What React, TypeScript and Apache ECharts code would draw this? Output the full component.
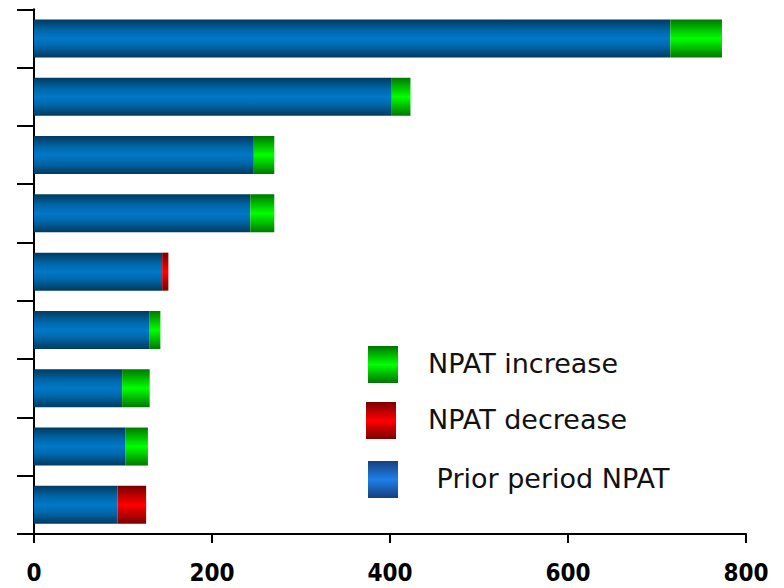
import React, { useEffect, useRef } from "react";
import * as echarts from "echarts";

const categories = ["C1", "C2", "C3", "C4", "C5", "C6", "C7", "C8", "C9"];
const priorNpat = [715, 402, 247, 243, 144, 130, 99, 103, 94];
const npatIncrease = [58, 21, 23, 27, 0, 12, 31, 25, 0];
const npatDecrease = [0, 0, 0, 0, 7, 0, 0, 0, 32];
const xTicks = [0, 200, 400, 600, 800];
const legendLabels = ["NPAT increase", "NPAT decrease", " Prior period NPAT"];

const grad = (edge: string, mid: string) =>
  new echarts.graphic.LinearGradient(0, 0, 0, 1, [
    { offset: 0, color: edge },
    { offset: 0.5, color: mid },
    { offset: 1, color: edge },
  ]);

export default function App() {
  const ref = useRef<HTMLDivElement>(null);
  useEffect(() => {
    if (!ref.current) return;
    const chart = echarts.init(ref.current, null, { renderer: "svg" });
    const blue = () =>
      new echarts.graphic.LinearGradient(0, 0, 0, 1, [
        { offset: 0, color: "#003a60" },
        { offset: 0.3, color: "#0068aa" },
        { offset: 0.5, color: "#0078c8" },
        { offset: 0.7, color: "#0068aa" },
        { offset: 1, color: "#003a60" },
      ]);
    const legendFills = [
      grad("#007400", "#00ff00"),
      grad("#7a0000", "#ff0000"),
      grad("#163f7c", "#1e80ea"),
    ];
    const legendY = [346, 402, 461];
    const legendX = [368, 366, 368];
    const textX = [428, 428, 428];
    const graphic: any[] = [];
    legendLabels.forEach((t, i) => {
      graphic.push({
        type: "rect",
        shape: { x: legendX[i], y: legendY[i], width: 30, height: 37 },
        style: { fill: legendFills[i] },
      });
      graphic.push({
        type: "text",
        x: textX[i],
        y: legendY[i] + 17,
        style: {
          text: t,
          font: "27px 'DejaVu Sans'",
          fill: "#111",
          verticalAlign: "middle",
          textAlign: "left",
        },
      });
    });
    graphic.push({
      type: "line",
      shape: { x1: 17, y1: 534, x2: 34, y2: 534 },
      style: { stroke: "#000", lineWidth: 2 },
    });

    chart.setOption({
      animation: false,
      grid: { left: 34, right: 38, top: 9.3, bottom: 54 },
      xAxis: {
        type: "value",
        min: 0,
        max: 800,
        interval: 200,
        splitLine: { show: false },
        axisLine: { show: true, lineStyle: { color: "#000", width: 2 } },
        axisTick: { show: true, length: 9, lineStyle: { color: "#000", width: 2 } },
        axisLabel: {
          margin: 27,
          color: "#000",
          fontFamily: "'DejaVu Sans Condensed', 'DejaVu Sans'",
          fontWeight: "bold",
          fontSize: 24,
          formatter: (v: number) => (xTicks.includes(v) ? String(v) : ""),
        },
      },
      yAxis: {
        type: "category",
        data: categories,
        inverse: true,
        axisLine: { show: true, lineStyle: { color: "#000", width: 2 } },
        axisTick: { show: true, length: 17, lineStyle: { color: "#000", width: 2 } },
        axisLabel: { show: false },
        splitLine: { show: false },
      },
      series: [
        {
          name: "Prior period NPAT",
          type: "bar",
          stack: "t",
          barWidth: 38,
          data: priorNpat,
          itemStyle: { color: blue() },
        },
        {
          name: "NPAT increase",
          type: "bar",
          stack: "t",
          barWidth: 38,
          data: npatIncrease,
          itemStyle: { color: grad("#007800", "#00ff00") },
        },
        {
          name: "NPAT decrease",
          type: "bar",
          stack: "t",
          barWidth: 38,
          data: npatDecrease,
          itemStyle: { color: grad("#780000", "#ff0000") },
        },
      ],
      graphic,
    });
    return () => chart.dispose();
  }, []);
  return <div ref={ref} style={{ width: 784, height: 588, position: "absolute", left: 0, top: 0 }} />;
}
